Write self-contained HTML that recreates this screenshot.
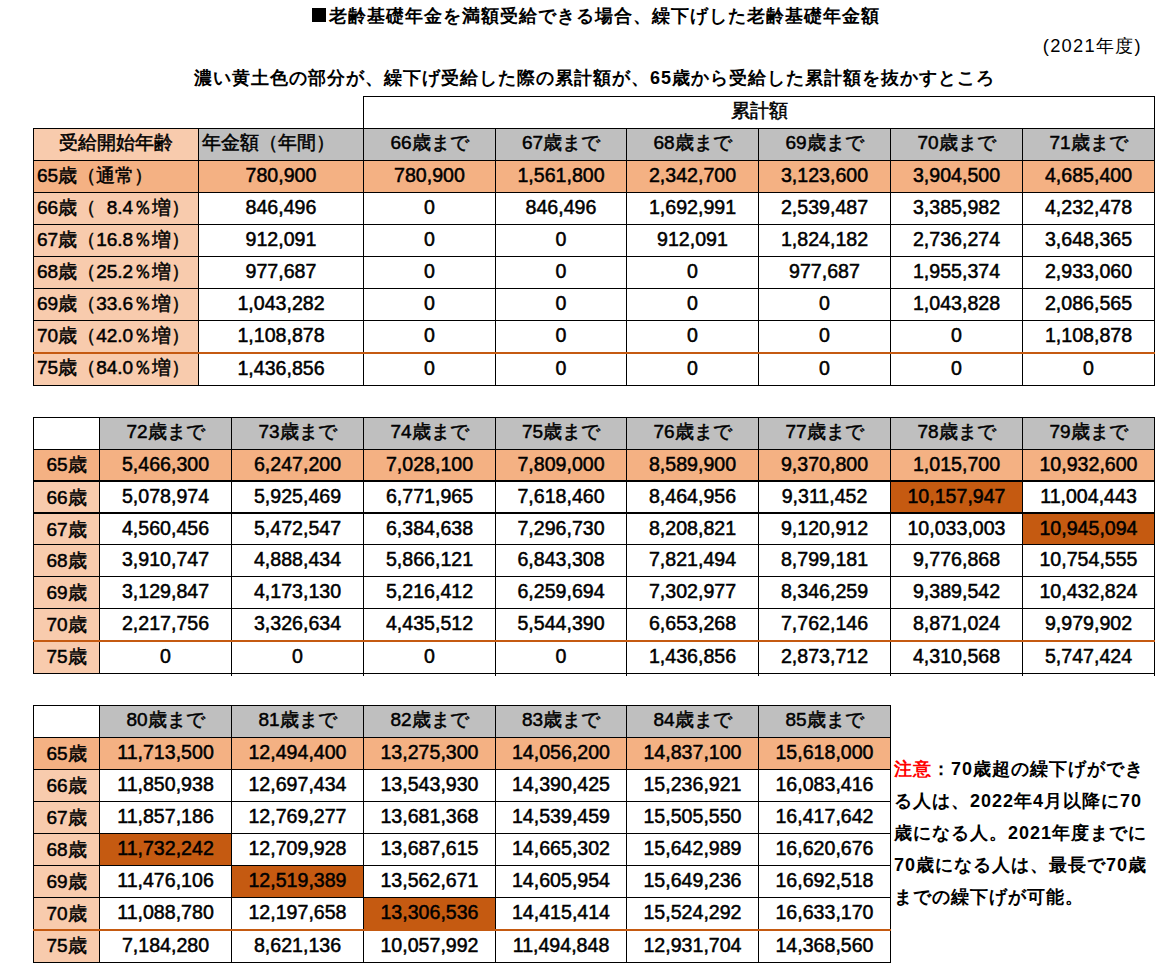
<!DOCTYPE html>
<html lang="ja"><head><meta charset="utf-8"><title>老齢基礎年金 繰下げ</title>
<style>
html,body{margin:0;padding:0;background:#fff;}
body{width:1156px;height:964px;position:relative;overflow:hidden;font-family:"Liberation Sans",sans-serif;font-weight:bold;color:#000;}
body>div{position:absolute;}
.t{font-size:19px;white-space:nowrap;overflow:visible;font-weight:normal;-webkit-text-stroke:0.5px #000;}
.ttl{font-size:18px;white-space:nowrap;letter-spacing:1.0px;}
.sq{display:inline-block;width:14px;height:14px;background:#000;margin-right:3px;margin-left:1px;vertical-align:0px;}
.note{font-size:18px;white-space:nowrap;line-height:32px;letter-spacing:1px;}
.red{color:#f00;}
.yr{font-weight:normal;font-size:18.3px;white-space:nowrap;letter-spacing:1.3px;}
</style></head><body>
<div class="ttl" style="left:195px;top:3px;width:800px;height:26px;line-height:26px;text-align:center;"><span class="sq"></span>老齢基礎年金を満額受給できる場合、繰下げした老齢基礎年金額</div>
<div class="yr" style="left:958px;top:34px;width:184px;height:24px;line-height:24px;text-align:right;">(2021年度)</div>
<div class="ttl" style="left:194px;top:65px;width:800px;height:26px;line-height:26px;text-align:center;">濃い黄土色の部分が、繰下げ受給した際の累計額が、65歳から受給した累計額を抜かすところ</div>
<div style="left:363px;top:96px;width:792px;height:1px;background:#000"></div>
<div style="left:363px;top:96px;width:1px;height:33px;background:#000"></div>
<div style="left:1154px;top:96px;width:1px;height:33px;background:#000"></div>
<div class="t" style="left:364px;top:95px;width:790px;height:31px;line-height:31px;text-align:center;font-size:19px;">累計額</div>
<div style="left:33px;top:128px;width:166px;height:33px;background:#F8CBAD"></div>
<div style="left:198px;top:128px;width:166px;height:33px;background:#BFBFBF"></div>
<div style="left:363px;top:128px;width:133px;height:33px;background:#BFBFBF"></div>
<div style="left:495px;top:128px;width:132px;height:33px;background:#BFBFBF"></div>
<div style="left:626px;top:128px;width:133px;height:33px;background:#BFBFBF"></div>
<div style="left:758px;top:128px;width:133px;height:33px;background:#BFBFBF"></div>
<div style="left:890px;top:128px;width:133px;height:33px;background:#BFBFBF"></div>
<div style="left:1022px;top:128px;width:133px;height:33px;background:#BFBFBF"></div>
<div style="left:33px;top:160px;width:166px;height:33px;background:#F4B183"></div>
<div style="left:198px;top:160px;width:166px;height:33px;background:#F4B183"></div>
<div style="left:363px;top:160px;width:133px;height:33px;background:#F4B183"></div>
<div style="left:495px;top:160px;width:132px;height:33px;background:#F4B183"></div>
<div style="left:626px;top:160px;width:133px;height:33px;background:#F4B183"></div>
<div style="left:758px;top:160px;width:133px;height:33px;background:#F4B183"></div>
<div style="left:890px;top:160px;width:133px;height:33px;background:#F4B183"></div>
<div style="left:1022px;top:160px;width:133px;height:33px;background:#F4B183"></div>
<div style="left:33px;top:192px;width:166px;height:33px;background:#F8CBAD"></div>
<div style="left:33px;top:224px;width:166px;height:33px;background:#F8CBAD"></div>
<div style="left:33px;top:256px;width:166px;height:33px;background:#F8CBAD"></div>
<div style="left:33px;top:288px;width:166px;height:33px;background:#F8CBAD"></div>
<div style="left:33px;top:320px;width:166px;height:33px;background:#F8CBAD"></div>
<div style="left:33px;top:352px;width:166px;height:34px;background:#F8CBAD"></div>
<div class="t" style="left:34px;top:127px;width:164px;height:31px;line-height:31px;text-align:center;font-size:19px;">受給開始年齢</div>
<div class="t" style="left:199px;top:127px;width:164px;height:31px;line-height:31px;text-align:left;font-size:19px;padding-left:3px;box-sizing:border-box;">年金額（年間）</div>
<div class="t" style="left:364px;top:127px;width:131px;height:31px;line-height:31px;text-align:center;font-size:19px;">66歳まで</div>
<div class="t" style="left:496px;top:127px;width:130px;height:31px;line-height:31px;text-align:center;font-size:19px;">67歳まで</div>
<div class="t" style="left:627px;top:127px;width:131px;height:31px;line-height:31px;text-align:center;font-size:19px;">68歳まで</div>
<div class="t" style="left:759px;top:127px;width:131px;height:31px;line-height:31px;text-align:center;font-size:19px;">69歳まで</div>
<div class="t" style="left:891px;top:127px;width:131px;height:31px;line-height:31px;text-align:center;font-size:19px;">70歳まで</div>
<div class="t" style="left:1023px;top:127px;width:131px;height:31px;line-height:31px;text-align:center;font-size:19px;">71歳まで</div>
<div class="t" style="left:34px;top:160px;width:164px;height:31px;line-height:31px;text-align:left;font-size:19px;padding-left:3px;box-sizing:border-box;">65歳（通常）</div>
<div class="t" style="left:199px;top:160px;width:164px;height:31px;line-height:31px;text-align:center;font-size:19.6px;">780,900</div>
<div class="t" style="left:364px;top:160px;width:131px;height:31px;line-height:31px;text-align:center;font-size:19.6px;">780,900</div>
<div class="t" style="left:496px;top:160px;width:130px;height:31px;line-height:31px;text-align:center;font-size:19.6px;">1,561,800</div>
<div class="t" style="left:627px;top:160px;width:131px;height:31px;line-height:31px;text-align:center;font-size:19.6px;">2,342,700</div>
<div class="t" style="left:759px;top:160px;width:131px;height:31px;line-height:31px;text-align:center;font-size:19.6px;">3,123,600</div>
<div class="t" style="left:891px;top:160px;width:131px;height:31px;line-height:31px;text-align:center;font-size:19.6px;">3,904,500</div>
<div class="t" style="left:1023px;top:160px;width:131px;height:31px;line-height:31px;text-align:center;font-size:19.6px;">4,685,400</div>
<div class="t" style="left:34px;top:192px;width:164px;height:31px;line-height:31px;text-align:left;font-size:19px;padding-left:3px;box-sizing:border-box;">66歳（&#8199;8.4％増）</div>
<div class="t" style="left:199px;top:192px;width:164px;height:31px;line-height:31px;text-align:center;font-size:19.6px;">846,496</div>
<div class="t" style="left:364px;top:192px;width:131px;height:31px;line-height:31px;text-align:center;font-size:19.6px;">0</div>
<div class="t" style="left:496px;top:192px;width:130px;height:31px;line-height:31px;text-align:center;font-size:19.6px;">846,496</div>
<div class="t" style="left:627px;top:192px;width:131px;height:31px;line-height:31px;text-align:center;font-size:19.6px;">1,692,991</div>
<div class="t" style="left:759px;top:192px;width:131px;height:31px;line-height:31px;text-align:center;font-size:19.6px;">2,539,487</div>
<div class="t" style="left:891px;top:192px;width:131px;height:31px;line-height:31px;text-align:center;font-size:19.6px;">3,385,982</div>
<div class="t" style="left:1023px;top:192px;width:131px;height:31px;line-height:31px;text-align:center;font-size:19.6px;">4,232,478</div>
<div class="t" style="left:34px;top:224px;width:164px;height:31px;line-height:31px;text-align:left;font-size:19px;padding-left:3px;box-sizing:border-box;">67歳（16.8％増）</div>
<div class="t" style="left:199px;top:224px;width:164px;height:31px;line-height:31px;text-align:center;font-size:19.6px;">912,091</div>
<div class="t" style="left:364px;top:224px;width:131px;height:31px;line-height:31px;text-align:center;font-size:19.6px;">0</div>
<div class="t" style="left:496px;top:224px;width:130px;height:31px;line-height:31px;text-align:center;font-size:19.6px;">0</div>
<div class="t" style="left:627px;top:224px;width:131px;height:31px;line-height:31px;text-align:center;font-size:19.6px;">912,091</div>
<div class="t" style="left:759px;top:224px;width:131px;height:31px;line-height:31px;text-align:center;font-size:19.6px;">1,824,182</div>
<div class="t" style="left:891px;top:224px;width:131px;height:31px;line-height:31px;text-align:center;font-size:19.6px;">2,736,274</div>
<div class="t" style="left:1023px;top:224px;width:131px;height:31px;line-height:31px;text-align:center;font-size:19.6px;">3,648,365</div>
<div class="t" style="left:34px;top:256px;width:164px;height:31px;line-height:31px;text-align:left;font-size:19px;padding-left:3px;box-sizing:border-box;">68歳（25.2％増）</div>
<div class="t" style="left:199px;top:256px;width:164px;height:31px;line-height:31px;text-align:center;font-size:19.6px;">977,687</div>
<div class="t" style="left:364px;top:256px;width:131px;height:31px;line-height:31px;text-align:center;font-size:19.6px;">0</div>
<div class="t" style="left:496px;top:256px;width:130px;height:31px;line-height:31px;text-align:center;font-size:19.6px;">0</div>
<div class="t" style="left:627px;top:256px;width:131px;height:31px;line-height:31px;text-align:center;font-size:19.6px;">0</div>
<div class="t" style="left:759px;top:256px;width:131px;height:31px;line-height:31px;text-align:center;font-size:19.6px;">977,687</div>
<div class="t" style="left:891px;top:256px;width:131px;height:31px;line-height:31px;text-align:center;font-size:19.6px;">1,955,374</div>
<div class="t" style="left:1023px;top:256px;width:131px;height:31px;line-height:31px;text-align:center;font-size:19.6px;">2,933,060</div>
<div class="t" style="left:34px;top:288px;width:164px;height:31px;line-height:31px;text-align:left;font-size:19px;padding-left:3px;box-sizing:border-box;">69歳（33.6％増）</div>
<div class="t" style="left:199px;top:288px;width:164px;height:31px;line-height:31px;text-align:center;font-size:19.6px;">1,043,282</div>
<div class="t" style="left:364px;top:288px;width:131px;height:31px;line-height:31px;text-align:center;font-size:19.6px;">0</div>
<div class="t" style="left:496px;top:288px;width:130px;height:31px;line-height:31px;text-align:center;font-size:19.6px;">0</div>
<div class="t" style="left:627px;top:288px;width:131px;height:31px;line-height:31px;text-align:center;font-size:19.6px;">0</div>
<div class="t" style="left:759px;top:288px;width:131px;height:31px;line-height:31px;text-align:center;font-size:19.6px;">0</div>
<div class="t" style="left:891px;top:288px;width:131px;height:31px;line-height:31px;text-align:center;font-size:19.6px;">1,043,828</div>
<div class="t" style="left:1023px;top:288px;width:131px;height:31px;line-height:31px;text-align:center;font-size:19.6px;">2,086,565</div>
<div class="t" style="left:34px;top:320px;width:164px;height:31px;line-height:31px;text-align:left;font-size:19px;padding-left:3px;box-sizing:border-box;">70歳（42.0％増）</div>
<div class="t" style="left:199px;top:320px;width:164px;height:31px;line-height:31px;text-align:center;font-size:19.6px;">1,108,878</div>
<div class="t" style="left:364px;top:320px;width:131px;height:31px;line-height:31px;text-align:center;font-size:19.6px;">0</div>
<div class="t" style="left:496px;top:320px;width:130px;height:31px;line-height:31px;text-align:center;font-size:19.6px;">0</div>
<div class="t" style="left:627px;top:320px;width:131px;height:31px;line-height:31px;text-align:center;font-size:19.6px;">0</div>
<div class="t" style="left:759px;top:320px;width:131px;height:31px;line-height:31px;text-align:center;font-size:19.6px;">0</div>
<div class="t" style="left:891px;top:320px;width:131px;height:31px;line-height:31px;text-align:center;font-size:19.6px;">0</div>
<div class="t" style="left:1023px;top:320px;width:131px;height:31px;line-height:31px;text-align:center;font-size:19.6px;">1,108,878</div>
<div class="t" style="left:34px;top:352px;width:164px;height:32px;line-height:32px;text-align:left;font-size:19px;padding-left:3px;box-sizing:border-box;">75歳（84.0％増）</div>
<div class="t" style="left:199px;top:352px;width:164px;height:32px;line-height:32px;text-align:center;font-size:19.6px;">1,436,856</div>
<div class="t" style="left:364px;top:352px;width:131px;height:32px;line-height:32px;text-align:center;font-size:19.6px;">0</div>
<div class="t" style="left:496px;top:352px;width:130px;height:32px;line-height:32px;text-align:center;font-size:19.6px;">0</div>
<div class="t" style="left:627px;top:352px;width:131px;height:32px;line-height:32px;text-align:center;font-size:19.6px;">0</div>
<div class="t" style="left:759px;top:352px;width:131px;height:32px;line-height:32px;text-align:center;font-size:19.6px;">0</div>
<div class="t" style="left:891px;top:352px;width:131px;height:32px;line-height:32px;text-align:center;font-size:19.6px;">0</div>
<div class="t" style="left:1023px;top:352px;width:131px;height:32px;line-height:32px;text-align:center;font-size:19.6px;">0</div>
<div style="left:33px;top:128px;width:1px;height:258px;background:#000"></div>
<div style="left:198px;top:128px;width:1px;height:258px;background:#000"></div>
<div style="left:363px;top:128px;width:1px;height:258px;background:#000"></div>
<div style="left:495px;top:128px;width:1px;height:258px;background:#000"></div>
<div style="left:626px;top:128px;width:1px;height:258px;background:#000"></div>
<div style="left:758px;top:128px;width:1px;height:258px;background:#000"></div>
<div style="left:890px;top:128px;width:1px;height:258px;background:#000"></div>
<div style="left:1022px;top:128px;width:1px;height:258px;background:#000"></div>
<div style="left:1154px;top:128px;width:1px;height:258px;background:#000"></div>
<div style="left:33px;top:128px;width:1122px;height:1px;background:#000"></div>
<div style="left:33px;top:160px;width:1122px;height:1px;background:#000"></div>
<div style="left:33px;top:192px;width:1122px;height:1px;background:#000"></div>
<div style="left:33px;top:224px;width:1122px;height:1px;background:#000"></div>
<div style="left:33px;top:256px;width:1122px;height:1px;background:#000"></div>
<div style="left:33px;top:288px;width:1122px;height:1px;background:#000"></div>
<div style="left:33px;top:320px;width:1122px;height:1px;background:#000"></div>
<div style="left:33px;top:352px;width:1122px;height:1px;background:#000"></div>
<div style="left:33px;top:385px;width:1122px;height:1px;background:#000"></div>
<div style="left:33px;top:352px;width:1122px;height:2px;background:#C55A11"></div>
<div style="left:99px;top:417px;width:133px;height:33px;background:#BFBFBF"></div>
<div style="left:231px;top:417px;width:133px;height:33px;background:#BFBFBF"></div>
<div style="left:363px;top:417px;width:133px;height:33px;background:#BFBFBF"></div>
<div style="left:495px;top:417px;width:132px;height:33px;background:#BFBFBF"></div>
<div style="left:626px;top:417px;width:133px;height:33px;background:#BFBFBF"></div>
<div style="left:758px;top:417px;width:133px;height:33px;background:#BFBFBF"></div>
<div style="left:890px;top:417px;width:133px;height:33px;background:#BFBFBF"></div>
<div style="left:1022px;top:417px;width:133px;height:33px;background:#BFBFBF"></div>
<div style="left:33px;top:449px;width:67px;height:32px;background:#F4B183"></div>
<div style="left:99px;top:449px;width:133px;height:32px;background:#F4B183"></div>
<div style="left:231px;top:449px;width:133px;height:32px;background:#F4B183"></div>
<div style="left:363px;top:449px;width:133px;height:32px;background:#F4B183"></div>
<div style="left:495px;top:449px;width:132px;height:32px;background:#F4B183"></div>
<div style="left:626px;top:449px;width:133px;height:32px;background:#F4B183"></div>
<div style="left:758px;top:449px;width:133px;height:32px;background:#F4B183"></div>
<div style="left:890px;top:449px;width:133px;height:32px;background:#F4B183"></div>
<div style="left:1022px;top:449px;width:133px;height:32px;background:#F4B183"></div>
<div style="left:33px;top:480px;width:67px;height:33px;background:#F8CBAD"></div>
<div style="left:890px;top:480px;width:133px;height:33px;background:#C55A11"></div>
<div style="left:33px;top:512px;width:67px;height:33px;background:#F8CBAD"></div>
<div style="left:1022px;top:512px;width:133px;height:33px;background:#C55A11"></div>
<div style="left:33px;top:544px;width:67px;height:33px;background:#F8CBAD"></div>
<div style="left:33px;top:576px;width:67px;height:33px;background:#F8CBAD"></div>
<div style="left:33px;top:608px;width:67px;height:33px;background:#F8CBAD"></div>
<div style="left:33px;top:640px;width:67px;height:34px;background:#F8CBAD"></div>
<div class="t" style="left:100px;top:416px;width:131px;height:31px;line-height:31px;text-align:center;font-size:19px;">72歳まで</div>
<div class="t" style="left:232px;top:416px;width:131px;height:31px;line-height:31px;text-align:center;font-size:19px;">73歳まで</div>
<div class="t" style="left:364px;top:416px;width:131px;height:31px;line-height:31px;text-align:center;font-size:19px;">74歳まで</div>
<div class="t" style="left:496px;top:416px;width:130px;height:31px;line-height:31px;text-align:center;font-size:19px;">75歳まで</div>
<div class="t" style="left:627px;top:416px;width:131px;height:31px;line-height:31px;text-align:center;font-size:19px;">76歳まで</div>
<div class="t" style="left:759px;top:416px;width:131px;height:31px;line-height:31px;text-align:center;font-size:19px;">77歳まで</div>
<div class="t" style="left:891px;top:416px;width:131px;height:31px;line-height:31px;text-align:center;font-size:19px;">78歳まで</div>
<div class="t" style="left:1023px;top:416px;width:131px;height:31px;line-height:31px;text-align:center;font-size:19px;">79歳まで</div>
<div class="t" style="left:34px;top:450px;width:65px;height:30px;line-height:30px;text-align:center;font-size:19px;">65歳</div>
<div class="t" style="left:100px;top:449px;width:131px;height:30px;line-height:30px;text-align:center;font-size:19.6px;">5,466,300</div>
<div class="t" style="left:232px;top:449px;width:131px;height:30px;line-height:30px;text-align:center;font-size:19.6px;">6,247,200</div>
<div class="t" style="left:364px;top:449px;width:131px;height:30px;line-height:30px;text-align:center;font-size:19.6px;">7,028,100</div>
<div class="t" style="left:496px;top:449px;width:130px;height:30px;line-height:30px;text-align:center;font-size:19.6px;">7,809,000</div>
<div class="t" style="left:627px;top:449px;width:131px;height:30px;line-height:30px;text-align:center;font-size:19.6px;">8,589,900</div>
<div class="t" style="left:759px;top:449px;width:131px;height:30px;line-height:30px;text-align:center;font-size:19.6px;">9,370,800</div>
<div class="t" style="left:891px;top:449px;width:131px;height:30px;line-height:30px;text-align:center;font-size:19.6px;">1,015,700</div>
<div class="t" style="left:1023px;top:449px;width:131px;height:30px;line-height:30px;text-align:center;font-size:19.6px;">10,932,600</div>
<div class="t" style="left:34px;top:482px;width:65px;height:31px;line-height:31px;text-align:center;font-size:19px;">66歳</div>
<div class="t" style="left:100px;top:481px;width:131px;height:31px;line-height:31px;text-align:center;font-size:19.6px;">5,078,974</div>
<div class="t" style="left:232px;top:481px;width:131px;height:31px;line-height:31px;text-align:center;font-size:19.6px;">5,925,469</div>
<div class="t" style="left:364px;top:481px;width:131px;height:31px;line-height:31px;text-align:center;font-size:19.6px;">6,771,965</div>
<div class="t" style="left:496px;top:481px;width:130px;height:31px;line-height:31px;text-align:center;font-size:19.6px;">7,618,460</div>
<div class="t" style="left:627px;top:481px;width:131px;height:31px;line-height:31px;text-align:center;font-size:19.6px;">8,464,956</div>
<div class="t" style="left:759px;top:481px;width:131px;height:31px;line-height:31px;text-align:center;font-size:19.6px;">9,311,452</div>
<div class="t" style="left:891px;top:481px;width:131px;height:31px;line-height:31px;text-align:center;font-size:19.6px;">10,157,947</div>
<div class="t" style="left:1023px;top:481px;width:131px;height:31px;line-height:31px;text-align:center;font-size:19.6px;">11,004,443</div>
<div class="t" style="left:34px;top:514px;width:65px;height:31px;line-height:31px;text-align:center;font-size:19px;">67歳</div>
<div class="t" style="left:100px;top:513px;width:131px;height:31px;line-height:31px;text-align:center;font-size:19.6px;">4,560,456</div>
<div class="t" style="left:232px;top:513px;width:131px;height:31px;line-height:31px;text-align:center;font-size:19.6px;">5,472,547</div>
<div class="t" style="left:364px;top:513px;width:131px;height:31px;line-height:31px;text-align:center;font-size:19.6px;">6,384,638</div>
<div class="t" style="left:496px;top:513px;width:130px;height:31px;line-height:31px;text-align:center;font-size:19.6px;">7,296,730</div>
<div class="t" style="left:627px;top:513px;width:131px;height:31px;line-height:31px;text-align:center;font-size:19.6px;">8,208,821</div>
<div class="t" style="left:759px;top:513px;width:131px;height:31px;line-height:31px;text-align:center;font-size:19.6px;">9,120,912</div>
<div class="t" style="left:891px;top:513px;width:131px;height:31px;line-height:31px;text-align:center;font-size:19.6px;">10,033,003</div>
<div class="t" style="left:1023px;top:513px;width:131px;height:31px;line-height:31px;text-align:center;font-size:19.6px;">10,945,094</div>
<div class="t" style="left:34px;top:545px;width:65px;height:31px;line-height:31px;text-align:center;font-size:19px;">68歳</div>
<div class="t" style="left:100px;top:544px;width:131px;height:31px;line-height:31px;text-align:center;font-size:19.6px;">3,910,747</div>
<div class="t" style="left:232px;top:544px;width:131px;height:31px;line-height:31px;text-align:center;font-size:19.6px;">4,888,434</div>
<div class="t" style="left:364px;top:544px;width:131px;height:31px;line-height:31px;text-align:center;font-size:19.6px;">5,866,121</div>
<div class="t" style="left:496px;top:544px;width:130px;height:31px;line-height:31px;text-align:center;font-size:19.6px;">6,843,308</div>
<div class="t" style="left:627px;top:544px;width:131px;height:31px;line-height:31px;text-align:center;font-size:19.6px;">7,821,494</div>
<div class="t" style="left:759px;top:544px;width:131px;height:31px;line-height:31px;text-align:center;font-size:19.6px;">8,799,181</div>
<div class="t" style="left:891px;top:544px;width:131px;height:31px;line-height:31px;text-align:center;font-size:19.6px;">9,776,868</div>
<div class="t" style="left:1023px;top:544px;width:131px;height:31px;line-height:31px;text-align:center;font-size:19.6px;">10,754,555</div>
<div class="t" style="left:34px;top:577px;width:65px;height:31px;line-height:31px;text-align:center;font-size:19px;">69歳</div>
<div class="t" style="left:100px;top:576px;width:131px;height:31px;line-height:31px;text-align:center;font-size:19.6px;">3,129,847</div>
<div class="t" style="left:232px;top:576px;width:131px;height:31px;line-height:31px;text-align:center;font-size:19.6px;">4,173,130</div>
<div class="t" style="left:364px;top:576px;width:131px;height:31px;line-height:31px;text-align:center;font-size:19.6px;">5,216,412</div>
<div class="t" style="left:496px;top:576px;width:130px;height:31px;line-height:31px;text-align:center;font-size:19.6px;">6,259,694</div>
<div class="t" style="left:627px;top:576px;width:131px;height:31px;line-height:31px;text-align:center;font-size:19.6px;">7,302,977</div>
<div class="t" style="left:759px;top:576px;width:131px;height:31px;line-height:31px;text-align:center;font-size:19.6px;">8,346,259</div>
<div class="t" style="left:891px;top:576px;width:131px;height:31px;line-height:31px;text-align:center;font-size:19.6px;">9,389,542</div>
<div class="t" style="left:1023px;top:576px;width:131px;height:31px;line-height:31px;text-align:center;font-size:19.6px;">10,432,824</div>
<div class="t" style="left:34px;top:609px;width:65px;height:31px;line-height:31px;text-align:center;font-size:19px;">70歳</div>
<div class="t" style="left:100px;top:608px;width:131px;height:31px;line-height:31px;text-align:center;font-size:19.6px;">2,217,756</div>
<div class="t" style="left:232px;top:608px;width:131px;height:31px;line-height:31px;text-align:center;font-size:19.6px;">3,326,634</div>
<div class="t" style="left:364px;top:608px;width:131px;height:31px;line-height:31px;text-align:center;font-size:19.6px;">4,435,512</div>
<div class="t" style="left:496px;top:608px;width:130px;height:31px;line-height:31px;text-align:center;font-size:19.6px;">5,544,390</div>
<div class="t" style="left:627px;top:608px;width:131px;height:31px;line-height:31px;text-align:center;font-size:19.6px;">6,653,268</div>
<div class="t" style="left:759px;top:608px;width:131px;height:31px;line-height:31px;text-align:center;font-size:19.6px;">7,762,146</div>
<div class="t" style="left:891px;top:608px;width:131px;height:31px;line-height:31px;text-align:center;font-size:19.6px;">8,871,024</div>
<div class="t" style="left:1023px;top:608px;width:131px;height:31px;line-height:31px;text-align:center;font-size:19.6px;">9,979,902</div>
<div class="t" style="left:34px;top:641px;width:65px;height:32px;line-height:32px;text-align:center;font-size:19px;">75歳</div>
<div class="t" style="left:100px;top:640px;width:131px;height:32px;line-height:32px;text-align:center;font-size:19.6px;">0</div>
<div class="t" style="left:232px;top:640px;width:131px;height:32px;line-height:32px;text-align:center;font-size:19.6px;">0</div>
<div class="t" style="left:364px;top:640px;width:131px;height:32px;line-height:32px;text-align:center;font-size:19.6px;">0</div>
<div class="t" style="left:496px;top:640px;width:130px;height:32px;line-height:32px;text-align:center;font-size:19.6px;">0</div>
<div class="t" style="left:627px;top:640px;width:131px;height:32px;line-height:32px;text-align:center;font-size:19.6px;">1,436,856</div>
<div class="t" style="left:759px;top:640px;width:131px;height:32px;line-height:32px;text-align:center;font-size:19.6px;">2,873,712</div>
<div class="t" style="left:891px;top:640px;width:131px;height:32px;line-height:32px;text-align:center;font-size:19.6px;">4,310,568</div>
<div class="t" style="left:1023px;top:640px;width:131px;height:32px;line-height:32px;text-align:center;font-size:19.6px;">5,747,424</div>
<div style="left:33px;top:417px;width:1px;height:257px;background:#000"></div>
<div style="left:99px;top:417px;width:1px;height:257px;background:#000"></div>
<div style="left:231px;top:417px;width:1px;height:259px;background:#000"></div>
<div style="left:363px;top:417px;width:1px;height:259px;background:#000"></div>
<div style="left:495px;top:417px;width:1px;height:259px;background:#000"></div>
<div style="left:626px;top:417px;width:1px;height:259px;background:#000"></div>
<div style="left:758px;top:417px;width:1px;height:259px;background:#000"></div>
<div style="left:890px;top:417px;width:1px;height:259px;background:#000"></div>
<div style="left:1022px;top:417px;width:1px;height:259px;background:#000"></div>
<div style="left:1154px;top:417px;width:1px;height:259px;background:#000"></div>
<div style="left:33px;top:417px;width:1122px;height:1px;background:#000"></div>
<div style="left:33px;top:449px;width:1122px;height:1px;background:#000"></div>
<div style="left:33px;top:480px;width:1122px;height:2px;background:#000"></div>
<div style="left:33px;top:512px;width:1122px;height:2px;background:#000"></div>
<div style="left:33px;top:544px;width:1122px;height:1px;background:#000"></div>
<div style="left:33px;top:576px;width:1122px;height:1px;background:#000"></div>
<div style="left:33px;top:608px;width:1122px;height:1px;background:#000"></div>
<div style="left:33px;top:640px;width:1122px;height:1px;background:#000"></div>
<div style="left:33px;top:673px;width:1122px;height:1px;background:#000"></div>
<div style="left:33px;top:640px;width:1122px;height:2px;background:#C55A11"></div>
<div style="left:99px;top:705px;width:133px;height:33px;background:#BFBFBF"></div>
<div style="left:231px;top:705px;width:133px;height:33px;background:#BFBFBF"></div>
<div style="left:363px;top:705px;width:133px;height:33px;background:#BFBFBF"></div>
<div style="left:495px;top:705px;width:132px;height:33px;background:#BFBFBF"></div>
<div style="left:626px;top:705px;width:133px;height:33px;background:#BFBFBF"></div>
<div style="left:758px;top:705px;width:133px;height:33px;background:#BFBFBF"></div>
<div style="left:33px;top:737px;width:67px;height:33px;background:#F4B183"></div>
<div style="left:99px;top:737px;width:133px;height:33px;background:#F4B183"></div>
<div style="left:231px;top:737px;width:133px;height:33px;background:#F4B183"></div>
<div style="left:363px;top:737px;width:133px;height:33px;background:#F4B183"></div>
<div style="left:495px;top:737px;width:132px;height:33px;background:#F4B183"></div>
<div style="left:626px;top:737px;width:133px;height:33px;background:#F4B183"></div>
<div style="left:758px;top:737px;width:133px;height:33px;background:#F4B183"></div>
<div style="left:33px;top:769px;width:67px;height:33px;background:#F8CBAD"></div>
<div style="left:33px;top:801px;width:67px;height:33px;background:#F8CBAD"></div>
<div style="left:33px;top:833px;width:67px;height:33px;background:#F8CBAD"></div>
<div style="left:99px;top:833px;width:133px;height:33px;background:#C55A11"></div>
<div style="left:33px;top:865px;width:67px;height:33px;background:#F8CBAD"></div>
<div style="left:231px;top:865px;width:133px;height:33px;background:#C55A11"></div>
<div style="left:33px;top:897px;width:67px;height:33px;background:#F8CBAD"></div>
<div style="left:363px;top:897px;width:133px;height:33px;background:#C55A11"></div>
<div style="left:33px;top:929px;width:67px;height:34px;background:#F8CBAD"></div>
<div class="t" style="left:100px;top:704px;width:131px;height:31px;line-height:31px;text-align:center;font-size:19px;">80歳まで</div>
<div class="t" style="left:232px;top:704px;width:131px;height:31px;line-height:31px;text-align:center;font-size:19px;">81歳まで</div>
<div class="t" style="left:364px;top:704px;width:131px;height:31px;line-height:31px;text-align:center;font-size:19px;">82歳まで</div>
<div class="t" style="left:496px;top:704px;width:130px;height:31px;line-height:31px;text-align:center;font-size:19px;">83歳まで</div>
<div class="t" style="left:627px;top:704px;width:131px;height:31px;line-height:31px;text-align:center;font-size:19px;">84歳まで</div>
<div class="t" style="left:759px;top:704px;width:131px;height:31px;line-height:31px;text-align:center;font-size:19px;">85歳まで</div>
<div class="t" style="left:34px;top:738px;width:65px;height:31px;line-height:31px;text-align:center;font-size:19px;">65歳</div>
<div class="t" style="left:100px;top:737px;width:131px;height:31px;line-height:31px;text-align:center;font-size:19.6px;">11,713,500</div>
<div class="t" style="left:232px;top:737px;width:131px;height:31px;line-height:31px;text-align:center;font-size:19.6px;">12,494,400</div>
<div class="t" style="left:364px;top:737px;width:131px;height:31px;line-height:31px;text-align:center;font-size:19.6px;">13,275,300</div>
<div class="t" style="left:496px;top:737px;width:130px;height:31px;line-height:31px;text-align:center;font-size:19.6px;">14,056,200</div>
<div class="t" style="left:627px;top:737px;width:131px;height:31px;line-height:31px;text-align:center;font-size:19.6px;">14,837,100</div>
<div class="t" style="left:759px;top:737px;width:131px;height:31px;line-height:31px;text-align:center;font-size:19.6px;">15,618,000</div>
<div class="t" style="left:34px;top:770px;width:65px;height:31px;line-height:31px;text-align:center;font-size:19px;">66歳</div>
<div class="t" style="left:100px;top:769px;width:131px;height:31px;line-height:31px;text-align:center;font-size:19.6px;">11,850,938</div>
<div class="t" style="left:232px;top:769px;width:131px;height:31px;line-height:31px;text-align:center;font-size:19.6px;">12,697,434</div>
<div class="t" style="left:364px;top:769px;width:131px;height:31px;line-height:31px;text-align:center;font-size:19.6px;">13,543,930</div>
<div class="t" style="left:496px;top:769px;width:130px;height:31px;line-height:31px;text-align:center;font-size:19.6px;">14,390,425</div>
<div class="t" style="left:627px;top:769px;width:131px;height:31px;line-height:31px;text-align:center;font-size:19.6px;">15,236,921</div>
<div class="t" style="left:759px;top:769px;width:131px;height:31px;line-height:31px;text-align:center;font-size:19.6px;">16,083,416</div>
<div class="t" style="left:34px;top:802px;width:65px;height:31px;line-height:31px;text-align:center;font-size:19px;">67歳</div>
<div class="t" style="left:100px;top:801px;width:131px;height:31px;line-height:31px;text-align:center;font-size:19.6px;">11,857,186</div>
<div class="t" style="left:232px;top:801px;width:131px;height:31px;line-height:31px;text-align:center;font-size:19.6px;">12,769,277</div>
<div class="t" style="left:364px;top:801px;width:131px;height:31px;line-height:31px;text-align:center;font-size:19.6px;">13,681,368</div>
<div class="t" style="left:496px;top:801px;width:130px;height:31px;line-height:31px;text-align:center;font-size:19.6px;">14,539,459</div>
<div class="t" style="left:627px;top:801px;width:131px;height:31px;line-height:31px;text-align:center;font-size:19.6px;">15,505,550</div>
<div class="t" style="left:759px;top:801px;width:131px;height:31px;line-height:31px;text-align:center;font-size:19.6px;">16,417,642</div>
<div class="t" style="left:34px;top:834px;width:65px;height:31px;line-height:31px;text-align:center;font-size:19px;">68歳</div>
<div class="t" style="left:100px;top:833px;width:131px;height:31px;line-height:31px;text-align:center;font-size:19.6px;">11,732,242</div>
<div class="t" style="left:232px;top:833px;width:131px;height:31px;line-height:31px;text-align:center;font-size:19.6px;">12,709,928</div>
<div class="t" style="left:364px;top:833px;width:131px;height:31px;line-height:31px;text-align:center;font-size:19.6px;">13,687,615</div>
<div class="t" style="left:496px;top:833px;width:130px;height:31px;line-height:31px;text-align:center;font-size:19.6px;">14,665,302</div>
<div class="t" style="left:627px;top:833px;width:131px;height:31px;line-height:31px;text-align:center;font-size:19.6px;">15,642,989</div>
<div class="t" style="left:759px;top:833px;width:131px;height:31px;line-height:31px;text-align:center;font-size:19.6px;">16,620,676</div>
<div class="t" style="left:34px;top:866px;width:65px;height:31px;line-height:31px;text-align:center;font-size:19px;">69歳</div>
<div class="t" style="left:100px;top:865px;width:131px;height:31px;line-height:31px;text-align:center;font-size:19.6px;">11,476,106</div>
<div class="t" style="left:232px;top:865px;width:131px;height:31px;line-height:31px;text-align:center;font-size:19.6px;">12,519,389</div>
<div class="t" style="left:364px;top:865px;width:131px;height:31px;line-height:31px;text-align:center;font-size:19.6px;">13,562,671</div>
<div class="t" style="left:496px;top:865px;width:130px;height:31px;line-height:31px;text-align:center;font-size:19.6px;">14,605,954</div>
<div class="t" style="left:627px;top:865px;width:131px;height:31px;line-height:31px;text-align:center;font-size:19.6px;">15,649,236</div>
<div class="t" style="left:759px;top:865px;width:131px;height:31px;line-height:31px;text-align:center;font-size:19.6px;">16,692,518</div>
<div class="t" style="left:34px;top:898px;width:65px;height:31px;line-height:31px;text-align:center;font-size:19px;">70歳</div>
<div class="t" style="left:100px;top:897px;width:131px;height:31px;line-height:31px;text-align:center;font-size:19.6px;">11,088,780</div>
<div class="t" style="left:232px;top:897px;width:131px;height:31px;line-height:31px;text-align:center;font-size:19.6px;">12,197,658</div>
<div class="t" style="left:364px;top:897px;width:131px;height:31px;line-height:31px;text-align:center;font-size:19.6px;">13,306,536</div>
<div class="t" style="left:496px;top:897px;width:130px;height:31px;line-height:31px;text-align:center;font-size:19.6px;">14,415,414</div>
<div class="t" style="left:627px;top:897px;width:131px;height:31px;line-height:31px;text-align:center;font-size:19.6px;">15,524,292</div>
<div class="t" style="left:759px;top:897px;width:131px;height:31px;line-height:31px;text-align:center;font-size:19.6px;">16,633,170</div>
<div class="t" style="left:34px;top:930px;width:65px;height:32px;line-height:32px;text-align:center;font-size:19px;">75歳</div>
<div class="t" style="left:100px;top:929px;width:131px;height:32px;line-height:32px;text-align:center;font-size:19.6px;">7,184,280</div>
<div class="t" style="left:232px;top:929px;width:131px;height:32px;line-height:32px;text-align:center;font-size:19.6px;">8,621,136</div>
<div class="t" style="left:364px;top:929px;width:131px;height:32px;line-height:32px;text-align:center;font-size:19.6px;">10,057,992</div>
<div class="t" style="left:496px;top:929px;width:130px;height:32px;line-height:32px;text-align:center;font-size:19.6px;">11,494,848</div>
<div class="t" style="left:627px;top:929px;width:131px;height:32px;line-height:32px;text-align:center;font-size:19.6px;">12,931,704</div>
<div class="t" style="left:759px;top:929px;width:131px;height:32px;line-height:32px;text-align:center;font-size:19.6px;">14,368,560</div>
<div style="left:33px;top:705px;width:1px;height:258px;background:#000"></div>
<div style="left:99px;top:705px;width:1px;height:258px;background:#000"></div>
<div style="left:231px;top:705px;width:1px;height:258px;background:#000"></div>
<div style="left:363px;top:705px;width:1px;height:258px;background:#000"></div>
<div style="left:495px;top:705px;width:1px;height:258px;background:#000"></div>
<div style="left:626px;top:705px;width:1px;height:258px;background:#000"></div>
<div style="left:758px;top:705px;width:1px;height:258px;background:#000"></div>
<div style="left:890px;top:705px;width:1px;height:258px;background:#000"></div>
<div style="left:33px;top:705px;width:858px;height:1px;background:#000"></div>
<div style="left:33px;top:737px;width:858px;height:1px;background:#000"></div>
<div style="left:33px;top:769px;width:858px;height:1px;background:#000"></div>
<div style="left:33px;top:801px;width:858px;height:1px;background:#000"></div>
<div style="left:33px;top:833px;width:858px;height:1px;background:#000"></div>
<div style="left:33px;top:865px;width:858px;height:1px;background:#000"></div>
<div style="left:33px;top:897px;width:858px;height:1px;background:#000"></div>
<div style="left:33px;top:929px;width:858px;height:1px;background:#000"></div>
<div style="left:33px;top:962px;width:858px;height:1px;background:#000"></div>
<div style="left:33px;top:929px;width:858px;height:2px;background:#C55A11"></div>
<div class="note" style="left:894px;top:753px;width:262px;"><span class="red">注意</span>：70歳超の繰下げができ<br>る人は、2022年4月以降に70<br>歳になる人。2021年度までに<br>70歳になる人は、最長で70歳<br>までの繰下げが可能。</div>
</body></html>
